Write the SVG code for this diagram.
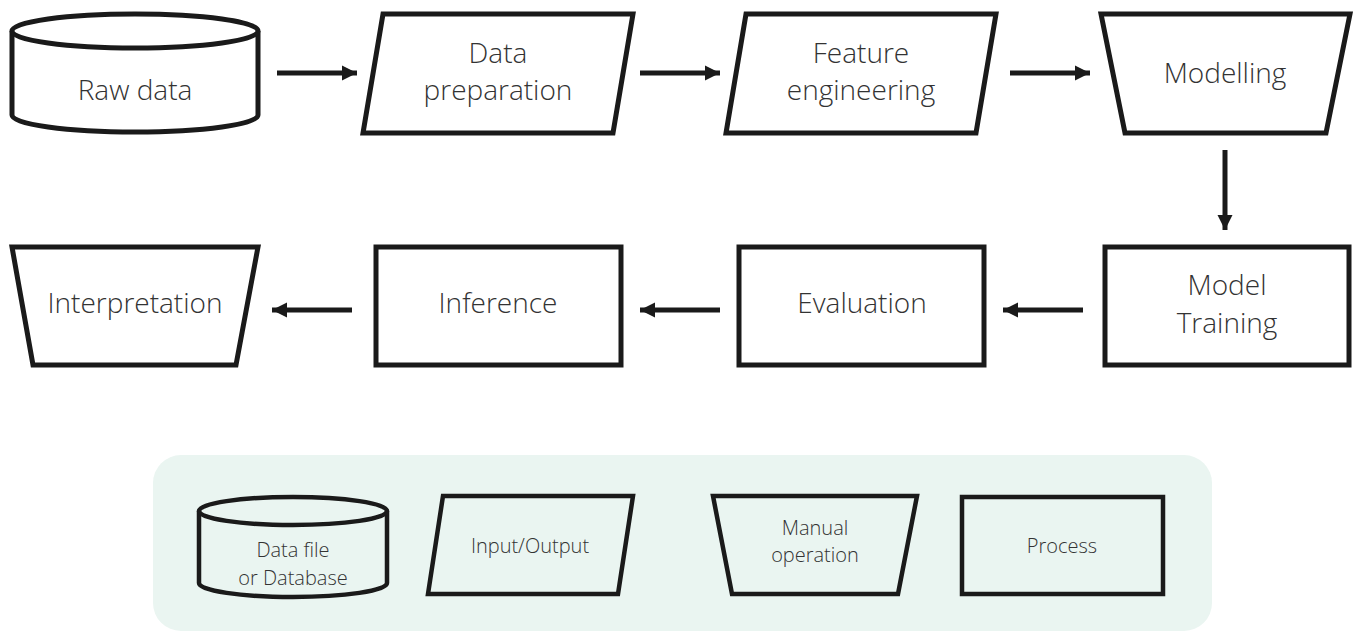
<svg xmlns="http://www.w3.org/2000/svg" width="1359" height="631" viewBox="0 0 1359 631">
<style>
.s{fill:#fff;stroke:#1a1a1a;stroke-width:5;stroke-linejoin:miter}
.ls{fill:none;stroke:#1a1a1a;stroke-width:4.5}
.t{font-family:"Open Sans","Liberation Sans",sans-serif;font-weight:300;font-size:28px;fill:#333;text-anchor:middle}
.lt{font-family:"Open Sans","Liberation Sans",sans-serif;font-weight:300;font-size:20px;fill:#333;text-anchor:middle}
.c{stroke:#1a1a1a;stroke-width:5;fill:none}
</style>
<defs>
<marker id="ah" viewBox="0 0 10 10" refX="10" refY="5" markerWidth="3" markerHeight="3.4" markerUnits="strokeWidth" orient="auto">
<path d="M0,0 L10,5 L0,10 Z" fill="#1a1a1a"/>
</marker>
</defs>
<rect x="0" y="0" width="1359" height="631" fill="#fff"/>

<g id="raw-data">
<path class="s" d="M12,31 V115 A123,17 0 0 0 258,115 V31"/>
<ellipse class="s" cx="135" cy="31" rx="123" ry="17"/>
<text class="t" x="135" y="100">Raw data</text>
</g>
<g id="data-preparation">
<polygon class="s" points="383,14 633,14 613,133 363,133"/>
<text class="t" x="498" y="63">Data</text>
<text class="t" x="498" y="100">preparation</text>
</g>
<g id="feature-engineering">
<polygon class="s" points="746,14 996,14 976,133 726,133"/>
<text class="t" x="861" y="63">Feature</text>
<text class="t" x="861" y="100">engineering</text>
</g>
<g id="modelling">
<polygon class="s" points="1101,14 1350,14 1326,133 1125,133"/>
<text class="t" x="1225" y="83">Modelling</text>
</g>
<g id="model-training">
<rect class="s" x="1105" y="247" width="244" height="118"/>
<text class="t" x="1227" y="295">Model</text>
<text class="t" x="1227" y="333">Training</text>
</g>
<g id="evaluation">
<rect class="s" x="739" y="247" width="245" height="118"/>
<text class="t" x="862" y="313">Evaluation</text>
</g>
<g id="inference">
<rect class="s" x="376" y="247" width="245" height="118"/>
<text class="t" x="498" y="313">Inference</text>
</g>
<g id="interpretation">
<polygon class="s" points="12,247 258,247 236,365 33,365"/>
<text class="t" x="135" y="313">Interpretation</text>
</g>

<g id="connectors">
<line class="c" x1="277" y1="73" x2="357" y2="73" marker-end="url(#ah)"/>
<line class="c" x1="640" y1="73" x2="720" y2="73" marker-end="url(#ah)"/>
<line class="c" x1="1010" y1="73" x2="1090" y2="73" marker-end="url(#ah)"/>
<line class="c" x1="1225" y1="150" x2="1225" y2="230" marker-end="url(#ah)"/>
<line class="c" x1="1083" y1="310" x2="1003" y2="310" marker-end="url(#ah)"/>
<line class="c" x1="720" y1="310" x2="640" y2="310" marker-end="url(#ah)"/>
<line class="c" x1="352" y1="310" x2="272" y2="310" marker-end="url(#ah)"/>
</g>

<g id="legend">
<rect x="153" y="455" width="1059" height="176" rx="28" fill="#eaf5f1"/>
<g id="legend-database">
<path class="ls" d="M199,511 V583 A94,14 0 0 0 387,583 V511"/>
<ellipse class="ls" cx="293" cy="511" rx="94" ry="14"/>
<text class="lt" x="293" y="557">Data file</text>
<text class="lt" x="293" y="585">or Database</text>
</g>
<g id="legend-io">
<polygon class="ls" points="443,496 633,496 618,594 428,594"/>
<text class="lt" x="530" y="553">Input/Output</text>
</g>
<g id="legend-manual">
<polygon class="ls" points="713,496 917,496 898,594 732,594"/>
<text class="lt" x="815" y="535">Manual</text>
<text class="lt" x="815" y="562">operation</text>
</g>
<g id="legend-process">
<rect class="ls" x="962" y="497" width="201" height="97"/>
<text class="lt" x="1062" y="553">Process</text>
</g>
</g>
</svg>
